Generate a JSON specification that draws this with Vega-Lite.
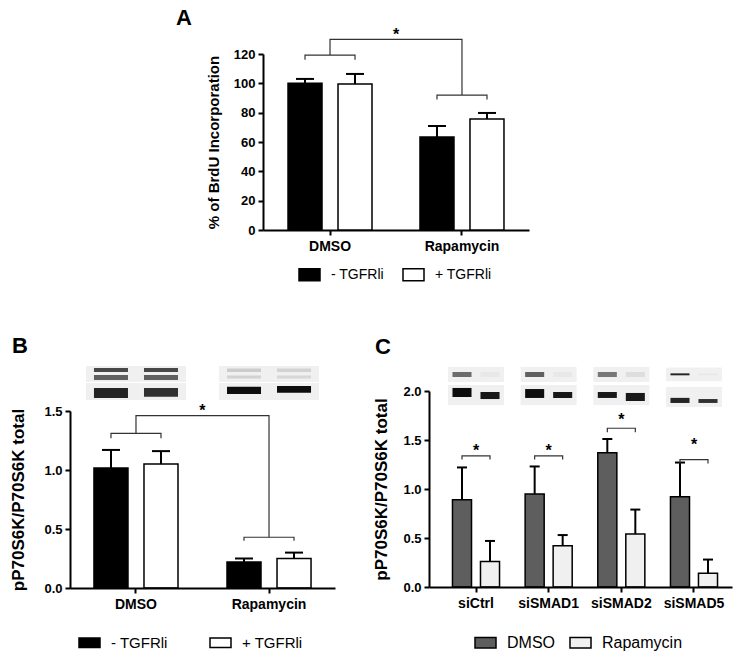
{
  "$schema": "https://vega.github.io/schema/vega-lite/v6.json",
  "padding": {"left": 9, "top": 6, "right": 5, "bottom": 5},
  "bounds": "flush",
  "spacing": 161,
  "resolve": {"scale": {"fill": "independent", "xOffset": "independent", "opacity": "independent", "x": "independent", "y": "independent"}, "legend": {"fill": "independent", "opacity": "independent"}},
  "config": {
    "view": {"stroke": null},
    "font": "Liberation Sans",
    "axis": {"domainColor": "#000000", "domainWidth": 2, "tickColor": "#000000", "tickWidth": 2, "tickSize": 5, "labelColor": "#000000", "labelFont": "Liberation Sans", "labelFontWeight": "bold", "titleFont": "Liberation Sans", "titleFontWeight": "bold", "titleColor": "#000000", "grid": false, "labelPadding": 3},
    "axisX": {"labelAngle": 0, "labelAlign": "center", "labelBaseline": "top", "labelPadding": 4, "labelFontSize": 14, "title": null},
    "legend": {"labelFont": "Liberation Sans", "labelColor": "#000000"},
    "title": {"font": "Liberation Sans", "fontWeight": "bold", "color": "#000000", "anchor": "start", "frame": "group"}
  },
  "datasets": {
    "a_bars": [
      {"group": "DMSO", "treatment": "- TGFRli", "value": 100, "upper": 103},
      {"group": "DMSO", "treatment": "+ TGFRli", "value": 99.5, "upper": 106.4},
      {"group": "Rapamycin", "treatment": "- TGFRli", "value": 63.4, "upper": 70.9},
      {"group": "Rapamycin", "treatment": "+ TGFRli", "value": 75.7, "upper": 79.8}
    ],
    "a_small": [
      {"bracket": "DMSO", "group": "DMSO", "treatment": "- TGFRli", "y": 116, "order": 1},
      {"bracket": "DMSO", "group": "DMSO", "treatment": "- TGFRli", "y": 119.3, "order": 2},
      {"bracket": "DMSO", "group": "DMSO", "treatment": "+ TGFRli", "y": 119.3, "order": 3},
      {"bracket": "DMSO", "group": "DMSO", "treatment": "+ TGFRli", "y": 116, "order": 4},
      {"bracket": "Rap", "group": "Rapamycin", "treatment": "- TGFRli", "y": 89, "order": 1},
      {"bracket": "Rap", "group": "Rapamycin", "treatment": "- TGFRli", "y": 92, "order": 2},
      {"bracket": "Rap", "group": "Rapamycin", "treatment": "+ TGFRli", "y": 92, "order": 3},
      {"bracket": "Rap", "group": "Rapamycin", "treatment": "+ TGFRli", "y": 89, "order": 4}
    ],
    "a_big": [
      {"group": "DMSO", "y": 119.3, "order": 1},
      {"group": "DMSO", "y": 130, "order": 2},
      {"group": "Rapamycin", "y": 130, "order": 3},
      {"group": "Rapamycin", "y": 92, "order": 4}
    ],
    "a_star": [{"group": "DMSO", "y": 133, "label": "*"}],
    "b_bars": [
      {"group": "DMSO", "treatment": "- TGFRli", "value": 1.017, "upper": 1.17},
      {"group": "DMSO", "treatment": "+ TGFRli", "value": 1.05, "upper": 1.16},
      {"group": "Rapamycin", "treatment": "- TGFRli", "value": 0.22, "upper": 0.25},
      {"group": "Rapamycin", "treatment": "+ TGFRli", "value": 0.25, "upper": 0.30}
    ],
    "b_small": [
      {"bracket": "DMSO", "group": "DMSO", "treatment": "- TGFRli", "y": 1.27, "order": 1},
      {"bracket": "DMSO", "group": "DMSO", "treatment": "- TGFRli", "y": 1.31, "order": 2},
      {"bracket": "DMSO", "group": "DMSO", "treatment": "+ TGFRli", "y": 1.31, "order": 3},
      {"bracket": "DMSO", "group": "DMSO", "treatment": "+ TGFRli", "y": 1.27, "order": 4},
      {"bracket": "Rap", "group": "Rapamycin", "treatment": "- TGFRli", "y": 0.40, "order": 1},
      {"bracket": "Rap", "group": "Rapamycin", "treatment": "- TGFRli", "y": 0.43, "order": 2},
      {"bracket": "Rap", "group": "Rapamycin", "treatment": "+ TGFRli", "y": 0.43, "order": 3},
      {"bracket": "Rap", "group": "Rapamycin", "treatment": "+ TGFRli", "y": 0.40, "order": 4}
    ],
    "b_big": [
      {"group": "DMSO", "y": 1.31, "order": 1},
      {"group": "DMSO", "y": 1.46, "order": 2},
      {"group": "Rapamycin", "y": 1.46, "order": 3},
      {"group": "Rapamycin", "y": 0.43, "order": 4}
    ],
    "b_star": [{"group": "DMSO", "y": 1.50, "label": "*"}],
    "b_blot_bg": [
      {"group": "DMSO", "part": "phospho", "y1": 1.746, "y2": 1.881},
      {"group": "DMSO", "part": "total", "y1": 1.593, "y2": 1.737},
      {"group": "Rapamycin", "part": "phospho", "y1": 1.746, "y2": 1.881},
      {"group": "Rapamycin", "part": "total", "y1": 1.593, "y2": 1.737}
    ],
    "b_blot_band": [
      {"group": "DMSO", "treatment": "- TGFRli", "part": "phospho", "y1": 1.83, "y2": 1.864, "intensity": 0.7},
      {"group": "DMSO", "treatment": "+ TGFRli", "part": "phospho", "y1": 1.83, "y2": 1.864, "intensity": 0.7},
      {"group": "DMSO", "treatment": "- TGFRli", "part": "phospho", "y1": 1.763, "y2": 1.805, "intensity": 0.6},
      {"group": "DMSO", "treatment": "+ TGFRli", "part": "phospho", "y1": 1.763, "y2": 1.805, "intensity": 0.6},
      {"group": "DMSO", "treatment": "- TGFRli", "part": "total", "y1": 1.61, "y2": 1.695, "intensity": 0.85},
      {"group": "DMSO", "treatment": "+ TGFRli", "part": "total", "y1": 1.62, "y2": 1.695, "intensity": 0.8},
      {"group": "Rapamycin", "treatment": "- TGFRli", "part": "phospho", "y1": 1.83, "y2": 1.86, "intensity": 0.15},
      {"group": "Rapamycin", "treatment": "+ TGFRli", "part": "phospho", "y1": 1.83, "y2": 1.86, "intensity": 0.12},
      {"group": "Rapamycin", "treatment": "- TGFRli", "part": "phospho", "y1": 1.775, "y2": 1.80, "intensity": 0.12},
      {"group": "Rapamycin", "treatment": "+ TGFRli", "part": "phospho", "y1": 1.775, "y2": 1.80, "intensity": 0.1},
      {"group": "Rapamycin", "treatment": "- TGFRli", "part": "total", "y1": 1.645, "y2": 1.705, "intensity": 0.95},
      {"group": "Rapamycin", "treatment": "+ TGFRli", "part": "total", "y1": 1.655, "y2": 1.712, "intensity": 0.95}
    ],
    "c_bars": [
      {"group": "siCtrl", "treatment": "DMSO", "value": 0.89, "upper": 1.22},
      {"group": "siCtrl", "treatment": "Rapamycin", "value": 0.26, "upper": 0.47},
      {"group": "siSMAD1", "treatment": "DMSO", "value": 0.95, "upper": 1.23},
      {"group": "siSMAD1", "treatment": "Rapamycin", "value": 0.42, "upper": 0.53},
      {"group": "siSMAD2", "treatment": "DMSO", "value": 1.37, "upper": 1.51},
      {"group": "siSMAD2", "treatment": "Rapamycin", "value": 0.54, "upper": 0.79},
      {"group": "siSMAD5", "treatment": "DMSO", "value": 0.92, "upper": 1.27},
      {"group": "siSMAD5", "treatment": "Rapamycin", "value": 0.14, "upper": 0.28}
    ],
    "c_small": [
      {"bracket": "siCtrl", "group": "siCtrl", "treatment": "DMSO", "y": 1.30, "order": 1},
      {"bracket": "siCtrl", "group": "siCtrl", "treatment": "DMSO", "y": 1.337, "order": 2},
      {"bracket": "siCtrl", "group": "siCtrl", "treatment": "Rapamycin", "y": 1.337, "order": 3},
      {"bracket": "siCtrl", "group": "siCtrl", "treatment": "Rapamycin", "y": 1.30, "order": 4},
      {"bracket": "siSMAD1", "group": "siSMAD1", "treatment": "DMSO", "y": 1.30, "order": 1},
      {"bracket": "siSMAD1", "group": "siSMAD1", "treatment": "DMSO", "y": 1.337, "order": 2},
      {"bracket": "siSMAD1", "group": "siSMAD1", "treatment": "Rapamycin", "y": 1.337, "order": 3},
      {"bracket": "siSMAD1", "group": "siSMAD1", "treatment": "Rapamycin", "y": 1.30, "order": 4},
      {"bracket": "siSMAD2", "group": "siSMAD2", "treatment": "DMSO", "y": 1.58, "order": 1},
      {"bracket": "siSMAD2", "group": "siSMAD2", "treatment": "DMSO", "y": 1.62, "order": 2},
      {"bracket": "siSMAD2", "group": "siSMAD2", "treatment": "Rapamycin", "y": 1.62, "order": 3},
      {"bracket": "siSMAD2", "group": "siSMAD2", "treatment": "Rapamycin", "y": 1.58, "order": 4},
      {"bracket": "siSMAD5", "group": "siSMAD5", "treatment": "DMSO", "y": 1.26, "order": 1},
      {"bracket": "siSMAD5", "group": "siSMAD5", "treatment": "DMSO", "y": 1.30, "order": 2},
      {"bracket": "siSMAD5", "group": "siSMAD5", "treatment": "Rapamycin", "y": 1.30, "order": 3},
      {"bracket": "siSMAD5", "group": "siSMAD5", "treatment": "Rapamycin", "y": 1.26, "order": 4}
    ],
    "c_star": [
      {"group": "siCtrl", "y": 1.39, "label": "*"},
      {"group": "siSMAD1", "y": 1.39, "label": "*"},
      {"group": "siSMAD2", "y": 1.70, "label": "*"},
      {"group": "siSMAD5", "y": 1.45, "label": "*"}
    ],
    "c_blot_bg": [
      {"group": "siCtrl", "part": "phospho", "y1": 2.092, "y2": 2.245},
      {"group": "siCtrl", "part": "total", "y1": 1.857, "y2": 2.061},
      {"group": "siSMAD1", "part": "phospho", "y1": 2.092, "y2": 2.245},
      {"group": "siSMAD1", "part": "total", "y1": 1.857, "y2": 2.061},
      {"group": "siSMAD2", "part": "phospho", "y1": 2.092, "y2": 2.245},
      {"group": "siSMAD2", "part": "total", "y1": 1.857, "y2": 2.061},
      {"group": "siSMAD5", "part": "phospho", "y1": 2.10, "y2": 2.24},
      {"group": "siSMAD5", "part": "total", "y1": 1.837, "y2": 2.041}
    ],
    "c_blot_band": [
      {"group": "siCtrl", "treatment": "DMSO", "part": "phospho", "y1": 2.143, "y2": 2.194, "intensity": 0.55},
      {"group": "siCtrl", "treatment": "Rapamycin", "part": "phospho", "y1": 2.143, "y2": 2.194, "intensity": 0.03},
      {"group": "siCtrl", "treatment": "DMSO", "part": "total", "y1": 1.939, "y2": 2.031, "intensity": 0.95},
      {"group": "siCtrl", "treatment": "Rapamycin", "part": "total", "y1": 1.918, "y2": 1.99, "intensity": 0.9},
      {"group": "siSMAD1", "treatment": "DMSO", "part": "phospho", "y1": 2.143, "y2": 2.194, "intensity": 0.6},
      {"group": "siSMAD1", "treatment": "Rapamycin", "part": "phospho", "y1": 2.143, "y2": 2.194, "intensity": 0.03},
      {"group": "siSMAD1", "treatment": "DMSO", "part": "total", "y1": 1.929, "y2": 2.02, "intensity": 0.95},
      {"group": "siSMAD1", "treatment": "Rapamycin", "part": "total", "y1": 1.929, "y2": 1.99, "intensity": 0.9},
      {"group": "siSMAD2", "treatment": "DMSO", "part": "phospho", "y1": 2.143, "y2": 2.194, "intensity": 0.5},
      {"group": "siSMAD2", "treatment": "Rapamycin", "part": "phospho", "y1": 2.143, "y2": 2.194, "intensity": 0.08},
      {"group": "siSMAD2", "treatment": "DMSO", "part": "total", "y1": 1.929, "y2": 1.99, "intensity": 0.9},
      {"group": "siSMAD2", "treatment": "Rapamycin", "part": "total", "y1": 1.898, "y2": 1.98, "intensity": 0.9},
      {"group": "siSMAD5", "treatment": "DMSO", "part": "phospho", "y1": 2.16, "y2": 2.18, "intensity": 0.85},
      {"group": "siSMAD5", "treatment": "Rapamycin", "part": "phospho", "y1": 2.16, "y2": 2.18, "intensity": 0.03},
      {"group": "siSMAD5", "treatment": "DMSO", "part": "total", "y1": 1.878, "y2": 1.93, "intensity": 0.85},
      {"group": "siSMAD5", "treatment": "Rapamycin", "part": "total", "y1": 1.878, "y2": 1.918, "intensity": 0.8}
    ]
  },
  "vconcat": [
    {
      "width": 459,
      "height": 176,
      "title": {"text": "A", "fontSize": 22, "dx": 106, "dy": 3, "offset": 0},
      "layer": [
        {
          "data": {"name": "a_bars"},
          "mark": {"type": "bar", "stroke": "#000000", "strokeWidth": 1.5},
          "encoding": {
            "x": {"field": "group", "type": "nominal", "title": null,
              "scale": {"domain": ["DMSO", "Rapamycin"], "range": [193, 459], "paddingInner": 0.2424, "paddingOuter": 0.129},
              "axis": {"labelAngle": 0, "labelAlign": "center", "labelFontSize": 14}},
            "xOffset": {"field": "treatment", "type": "nominal", "scale": {"domain": ["- TGFRli", "+ TGFRli"], "paddingInner": 0.32, "paddingOuter": 0.16}},
            "y": {"field": "value", "type": "quantitative", "title": "% of BrdU Incorporation",
              "scale": {"domain": [0, 120], "nice": false},
              "axis": {"values": [0, 20, 40, 60, 80, 100, 120], "offset": -193, "labelFontSize": 13, "titleFontSize": 15, "titlePadding": 12, "labelOverlap": false}},
            "fill": {"field": "treatment", "type": "nominal",
              "scale": {"domain": ["- TGFRli", "+ TGFRli"], "range": ["#000000", "#ffffff"]},
              "legend": {"orient": "none", "legendX": 228, "legendY": 209, "direction": "horizontal", "title": null, "labelFontSize": 14, "symbolType": "M-1,-0.571H1V0.571H-1Z", "symbolSize": 441, "symbolStrokeColor": "#000000", "symbolStrokeWidth": 1.5, "symbolOpacity": 1, "columnPadding": 16, "labelOffset": 10, "padding": 0}}
          }
        },
        {
          "data": {"name": "a_bars"},
          "mark": {"type": "rule", "strokeWidth": 2, "color": "#000000"},
          "encoding": {
            "x": {"field": "group", "type": "nominal", "title": null},
            "xOffset": {"field": "treatment", "type": "nominal"},
            "y": {"field": "value", "type": "quantitative", "title": "% of BrdU Incorporation", "axis": {"values": [0, 20, 40, 60, 80, 100, 120], "offset": -193, "labelFontSize": 13, "titleFontSize": 15, "titlePadding": 12, "labelOverlap": false}},
            "y2": {"field": "upper"}
          }
        },
        {
          "data": {"name": "a_bars"},
          "mark": {"type": "tick", "orient": "horizontal", "size": 18, "thickness": 2, "color": "#000000", "opacity": 1},
          "encoding": {
            "x": {"field": "group", "type": "nominal", "title": null},
            "xOffset": {"field": "treatment", "type": "nominal"},
            "y": {"field": "upper", "type": "quantitative", "title": "% of BrdU Incorporation", "axis": {"values": [0, 20, 40, 60, 80, 100, 120], "offset": -193, "labelFontSize": 13, "titleFontSize": 15, "titlePadding": 12, "labelOverlap": false}}
          }
        },
        {
          "data": {"name": "a_small"},
          "mark": {"type": "line", "strokeWidth": 1.2, "color": "#333333"},
          "encoding": {
            "x": {"field": "group", "type": "nominal", "title": null},
            "xOffset": {"field": "treatment", "type": "nominal"},
            "y": {"field": "y", "type": "quantitative", "title": "% of BrdU Incorporation", "axis": {"values": [0, 20, 40, 60, 80, 100, 120], "offset": -193, "labelFontSize": 13, "titleFontSize": 15, "titlePadding": 12, "labelOverlap": false}},
            "detail": {"field": "bracket"},
            "order": {"field": "order"}
          }
        },
        {
          "data": {"name": "a_big"},
          "mark": {"type": "line", "strokeWidth": 1.2, "color": "#333333"},
          "encoding": {
            "x": {"field": "group", "type": "nominal", "title": null},
            "y": {"field": "y", "type": "quantitative", "title": "% of BrdU Incorporation", "axis": {"values": [0, 20, 40, 60, 80, 100, 120], "offset": -193, "labelFontSize": 13, "titleFontSize": 15, "titlePadding": 12, "labelOverlap": false}},
            "order": {"field": "order"}
          }
        },
        {
          "data": {"name": "a_star"},
          "mark": {"type": "text", "fontSize": 16, "fontWeight": "bold", "dx": 66, "baseline": "middle", "color": "#000000"},
          "encoding": {
            "x": {"field": "group", "type": "nominal", "title": null},
            "y": {"field": "y", "type": "quantitative", "title": "% of BrdU Incorporation", "axis": {"values": [0, 20, 40, 60, 80, 100, 120], "offset": -193, "labelFontSize": 13, "titleFontSize": 15, "titlePadding": 12, "labelOverlap": false}},
            "text": {"field": "label"}
          }
        }
      ]
    },
    {
      "hconcat": [
        {
          "width": 265,
          "height": 197,
          "title": {"text": "B", "fontSize": 22, "dx": -58, "dy": -8, "offset": 0},
          "layer": [
            {
              "data": {"name": "b_blot_bg"},
              "mark": {"type": "rect", "color": "#000000", "opacity": 0.06},
              "encoding": {
                "x": {"field": "group", "type": "nominal", "title": null},
                "y": {"field": "y1", "type": "quantitative", "title": "pP70S6K/P70S6K total"},
                "y2": {"field": "y2"}
              }
            },
            {
              "data": {"name": "b_blot_band"},
              "mark": {"type": "rect", "color": "#000000"},
              "encoding": {
                "x": {"field": "group", "type": "nominal", "title": null},
                "xOffset": {"field": "treatment", "type": "nominal"},
                "y": {"field": "y1", "type": "quantitative", "title": "pP70S6K/P70S6K total"},
                "y2": {"field": "y2"},
                "opacity": {"field": "intensity", "type": "quantitative", "scale": {"domain": [0, 1], "range": [0, 1]}, "legend": null}
              }
            },
            {
              "data": {"name": "b_bars"},
              "mark": {"type": "bar", "stroke": "#000000", "strokeWidth": 1.5},
              "encoding": {
                "x": {"field": "group", "type": "nominal", "title": null,
                  "scale": {"domain": ["DMSO", "Rapamycin"], "paddingInner": 0.248, "paddingOuter": 0.12},
                  "axis": {"labelAngle": 0, "labelAlign": "center", "labelFontSize": 14}},
                "xOffset": {"field": "treatment", "type": "nominal", "scale": {"domain": ["- TGFRli", "+ TGFRli"], "paddingInner": 0.32, "paddingOuter": 0.16}},
                "y": {"field": "value", "type": "quantitative", "title": "pP70S6K/P70S6K total",
                  "scale": {"domain": [0, 1.5], "range": [197, 20], "nice": false},
                  "axis": {"values": [0, 0.5, 1, 1.5], "format": ".1f", "labelFontSize": 13, "titleFontSize": 17, "titlePadding": 16}},
                "fill": {"field": "treatment", "type": "nominal",
                  "scale": {"domain": ["- TGFRli", "+ TGFRli"], "range": ["#000000", "#ffffff"]},
                  "legend": {"orient": "none", "legendX": 8, "legendY": 240, "direction": "horizontal", "title": null, "labelFontSize": 15, "symbolType": "M-1,-0.45H1V0.45H-1Z", "symbolSize": 441, "symbolStrokeColor": "#000000", "symbolStrokeWidth": 1.5, "symbolOpacity": 1, "columnPadding": 39, "labelOffset": 10, "padding": 0}}
              }
            },
            {
              "data": {"name": "b_bars"},
              "mark": {"type": "rule", "strokeWidth": 2, "color": "#000000"},
              "encoding": {
                "x": {"field": "group", "type": "nominal", "title": null},
                "xOffset": {"field": "treatment", "type": "nominal"},
                "y": {"field": "value", "type": "quantitative", "title": "pP70S6K/P70S6K total"},
                "y2": {"field": "upper"}
              }
            },
            {
              "data": {"name": "b_bars"},
              "mark": {"type": "tick", "orient": "horizontal", "size": 18, "thickness": 2, "color": "#000000", "opacity": 1},
              "encoding": {
                "x": {"field": "group", "type": "nominal", "title": null},
                "xOffset": {"field": "treatment", "type": "nominal"},
                "y": {"field": "upper", "type": "quantitative", "title": "pP70S6K/P70S6K total"}
              }
            },
            {
              "data": {"name": "b_small"},
              "mark": {"type": "line", "strokeWidth": 1.2, "color": "#333333"},
              "encoding": {
                "x": {"field": "group", "type": "nominal", "title": null},
                "xOffset": {"field": "treatment", "type": "nominal"},
                "y": {"field": "y", "type": "quantitative", "title": "pP70S6K/P70S6K total"},
                "detail": {"field": "bracket"},
                "order": {"field": "order"}
              }
            },
            {
              "data": {"name": "b_big"},
              "mark": {"type": "line", "strokeWidth": 1.2, "color": "#333333"},
              "encoding": {
                "x": {"field": "group", "type": "nominal", "title": null},
                "y": {"field": "y", "type": "quantitative", "title": "pP70S6K/P70S6K total"},
                "order": {"field": "order"}
              }
            },
            {
              "data": {"name": "b_star"},
              "mark": {"type": "text", "fontSize": 16, "fontWeight": "bold", "dx": 66.5, "baseline": "middle", "color": "#000000"},
              "encoding": {
                "x": {"field": "group", "type": "nominal", "title": null},
                "y": {"field": "y", "type": "quantitative", "title": "pP70S6K/P70S6K total"},
                "text": {"field": "label"}
              }
            }
          ]
        },
        {
          "width": 303,
          "height": 196,
          "title": {"text": "C", "fontSize": 22, "dx": -54, "dy": -8, "offset": 0},
          "layer": [
            {
              "data": {"name": "c_blot_bg"},
              "mark": {"type": "rect", "color": "#000000", "opacity": 0.06},
              "encoding": {
                "x": {"field": "group", "type": "nominal", "title": null},
                "y": {"field": "y1", "type": "quantitative", "title": "pP70S6K/P70S6K total"},
                "y2": {"field": "y2"}
              }
            },
            {
              "data": {"name": "c_blot_band"},
              "mark": {"type": "rect", "color": "#000000"},
              "encoding": {
                "x": {"field": "group", "type": "nominal", "title": null},
                "xOffset": {"field": "treatment", "type": "nominal"},
                "y": {"field": "y1", "type": "quantitative", "title": "pP70S6K/P70S6K total"},
                "y2": {"field": "y2"},
                "opacity": {"field": "intensity", "type": "quantitative", "scale": {"domain": [0, 1], "range": [0, 1]}, "legend": null}
              }
            },
            {
              "data": {"name": "c_bars"},
              "mark": {"type": "bar", "stroke": "#000000", "strokeWidth": 1.5},
              "encoding": {
                "x": {"field": "group", "type": "nominal", "title": null,
                  "scale": {"domain": ["siCtrl", "siSMAD1", "siSMAD2", "siSMAD5"], "paddingInner": 0.229, "paddingOuter": 0.1995, "align": 0.655},
                  "axis": {"labelAngle": 0, "labelAlign": "center", "labelFontSize": 14}},
                "xOffset": {"field": "treatment", "type": "nominal", "scale": {"domain": ["DMSO", "Rapamycin"], "paddingInner": 0.32, "paddingOuter": 0.16}},
                "y": {"field": "value", "type": "quantitative", "title": "pP70S6K/P70S6K total",
                  "scale": {"domain": [0, 2], "nice": false},
                  "axis": {"values": [0, 0.5, 1, 1.5, 2], "format": ".1f", "labelFontSize": 13, "titleFontSize": 17, "titlePadding": 12}},
                "fill": {"field": "treatment", "type": "nominal",
                  "scale": {"domain": ["DMSO", "Rapamycin"], "range": ["#5e5e5e", "#f0f0f0"]},
                  "legend": {"orient": "none", "legendX": 45, "legendY": 240, "direction": "horizontal", "title": null, "labelFontSize": 16, "symbolType": "M-1,-0.5H1V0.5H-1Z", "symbolSize": 441, "symbolStrokeColor": "#000000", "symbolStrokeWidth": 1.5, "symbolOpacity": 1, "columnPadding": 12, "labelOffset": 10, "padding": 0}}
              }
            },
            {
              "data": {"name": "c_bars"},
              "mark": {"type": "rule", "strokeWidth": 2, "color": "#000000"},
              "encoding": {
                "x": {"field": "group", "type": "nominal", "title": null},
                "xOffset": {"field": "treatment", "type": "nominal"},
                "y": {"field": "value", "type": "quantitative", "title": "pP70S6K/P70S6K total"},
                "y2": {"field": "upper"}
              }
            },
            {
              "data": {"name": "c_bars"},
              "mark": {"type": "tick", "orient": "horizontal", "size": 10, "thickness": 2, "color": "#000000", "opacity": 1},
              "encoding": {
                "x": {"field": "group", "type": "nominal", "title": null},
                "xOffset": {"field": "treatment", "type": "nominal"},
                "y": {"field": "upper", "type": "quantitative", "title": "pP70S6K/P70S6K total"}
              }
            },
            {
              "data": {"name": "c_small"},
              "mark": {"type": "line", "strokeWidth": 1.2, "color": "#333333"},
              "encoding": {
                "x": {"field": "group", "type": "nominal", "title": null},
                "xOffset": {"field": "treatment", "type": "nominal"},
                "y": {"field": "y", "type": "quantitative", "title": "pP70S6K/P70S6K total"},
                "detail": {"field": "bracket"},
                "order": {"field": "order"}
              }
            },
            {
              "data": {"name": "c_star"},
              "mark": {"type": "text", "fontSize": 16, "fontWeight": "bold", "baseline": "middle", "color": "#000000"},
              "encoding": {
                "x": {"field": "group", "type": "nominal", "title": null},
                "y": {"field": "y", "type": "quantitative", "title": "pP70S6K/P70S6K total"},
                "text": {"field": "label"}
              }
            }
          ]
        }
      ],
      "spacing": 94,
      "bounds": "flush",
      "resolve": {"scale": {"fill": "independent", "xOffset": "independent", "opacity": "independent", "x": "independent", "y": "independent"}, "legend": {"fill": "independent", "opacity": "independent"}}
    }
  ]
}
